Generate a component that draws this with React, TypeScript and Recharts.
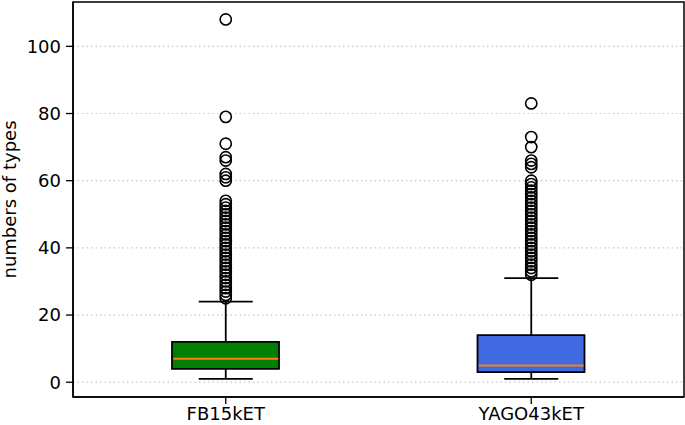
import { Bar, Cell, ComposedChart, ReferenceArea, Scatter, XAxis, YAxis, CartesianGrid } from "recharts";

const categories = ["FB15kET", "YAGO43kET"];
const boxColors = ["#008000", "#4169e1"];
const whiskerLow = [1, 1];
const quartile1 = [4, 3];
const medians = [7, 5];
const quartile3 = [12, 14];
const whiskerHigh = [24, 31];

const range = (from: number, to: number) => {
  const out: number[] = [];
  for (let v = from; v <= to; v++) out.push(v);
  return out;
};

const fbOutliers = [...range(25, 54), 60, 61, 62, 66, 67, 71, 79, 108];
const yagoOutliers = [...range(32, 60), 64, 65, 66, 70, 73, 83];
const outliers = [fbOutliers, yagoOutliers];

const yTicks = [0, 20, 40, 60, 80, 100];
const yDomain: [number, number] = [-4.4, 113.2];

const BOX_WIDTH = 107;
const CAP_WIDTH = 54;
const FONT = "DejaVu Sans, sans-serif";

const boxData = categories.map((name, i) => ({
  x: i + 1,
  name,
  box: [quartile1[i], quartile3[i]],
}));

const medianData = categories.map((_, i) => ({ x: i + 1, y: medians[i] }));

const outlierData = outliers.flatMap((list, i) => list.map((y) => ({ x: i + 1, y })));

const whiskerSegments = categories.flatMap((_, i) => [
  [
    { x: i + 1, y: whiskerLow[i], cap: true },
    { x: i + 1, y: quartile1[i], cap: false },
  ],
  [
    { x: i + 1, y: quartile3[i], cap: false },
    { x: i + 1, y: whiskerHigh[i], cap: true },
  ],
]);

const CapShape = (props: any) => {
  const { cx, cy, payload } = props;
  if (!payload?.cap) return <g />;
  return (
    <line x1={cx - CAP_WIDTH / 2} x2={cx + CAP_WIDTH / 2} y1={cy} y2={cy} stroke="#000" strokeWidth={1.8} />
  );
};

const MedianShape = (props: any) => {
  const { cx, cy } = props;
  return (
    <line x1={cx - BOX_WIDTH / 2 + 1} x2={cx + BOX_WIDTH / 2 - 1} y1={cy} y2={cy} stroke="#ff7f0e" strokeWidth={2} />
  );
};

const OutlierShape = (props: any) => {
  const { cx, cy } = props;
  return <circle cx={cx} cy={cy} r={5.6} fill="none" stroke="#000" strokeWidth={1.6} />;
};

export default function App() {
  return (
    <div style={{ position: "absolute", left: 0, top: 0, background: "#fff" }}>
      <ComposedChart
        width={685}
        height={425}
        data={boxData}
        margin={{ top: 2, right: 1, bottom: 0, left: 0 }}
      >
        <CartesianGrid
          horizontal
          vertical={false}
          stroke="#c8c8c8"
          strokeDasharray="1.5 3"
          strokeWidth={1.2}
        />
        <XAxis
          dataKey="x"
          type="number"
          domain={[0.5, 2.5]}
          ticks={[1, 2]}
          tickFormatter={(v: number) => categories[v - 1] ?? ""}
          tickSize={7}
          tickMargin={3}
          height={28}
          axisLine={{ stroke: "#000", strokeWidth: 1.5 }}
          tickLine={{ stroke: "#000", strokeWidth: 1.3 }}
          tick={{ fill: "#000", fontSize: 18, fontFamily: FONT }}
          allowDataOverflow
        />
        <YAxis
          type="number"
          domain={yDomain}
          ticks={yTicks}
          width={73}
          tickSize={7}
          tickMargin={5}
          axisLine={{ stroke: "#000", strokeWidth: 1.5 }}
          tickLine={{ stroke: "#000", strokeWidth: 1.3 }}
          tick={{ fill: "#000", fontSize: 18, fontFamily: FONT }}
          allowDataOverflow
          label={{
            value: "numbers of types",
            angle: -90,
            position: "insideLeft",
            offset: 10,
            style: { textAnchor: "middle", fill: "#000", fontSize: 18, fontFamily: FONT },
          }}
        />
        {whiskerSegments.map((seg, i) => (
          <Scatter
            key={`w${i}`}
            data={seg}
            dataKey="y"
            line={{ stroke: "#000", strokeWidth: 1.8 }}
            shape={CapShape}
            isAnimationActive={false}
          />
        ))}
        <Bar dataKey="box" barSize={BOX_WIDTH} stroke="#000" strokeWidth={1.8} isAnimationActive={false}>
          {boxData.map((d, i) => (
            <Cell key={d.name} fill={boxColors[i]} />
          ))}
        </Bar>
        <Scatter data={medianData} dataKey="y" shape={MedianShape} isAnimationActive={false} />
        <Scatter data={outlierData} dataKey="y" shape={OutlierShape} isAnimationActive={false} />
        <ReferenceArea
          y1={yDomain[0]}
          y2={yDomain[1]}
          fill="none"
          stroke="#000"
          strokeWidth={1.5}
          ifOverflow="visible"
        />
      </ComposedChart>
    </div>
  );
}
